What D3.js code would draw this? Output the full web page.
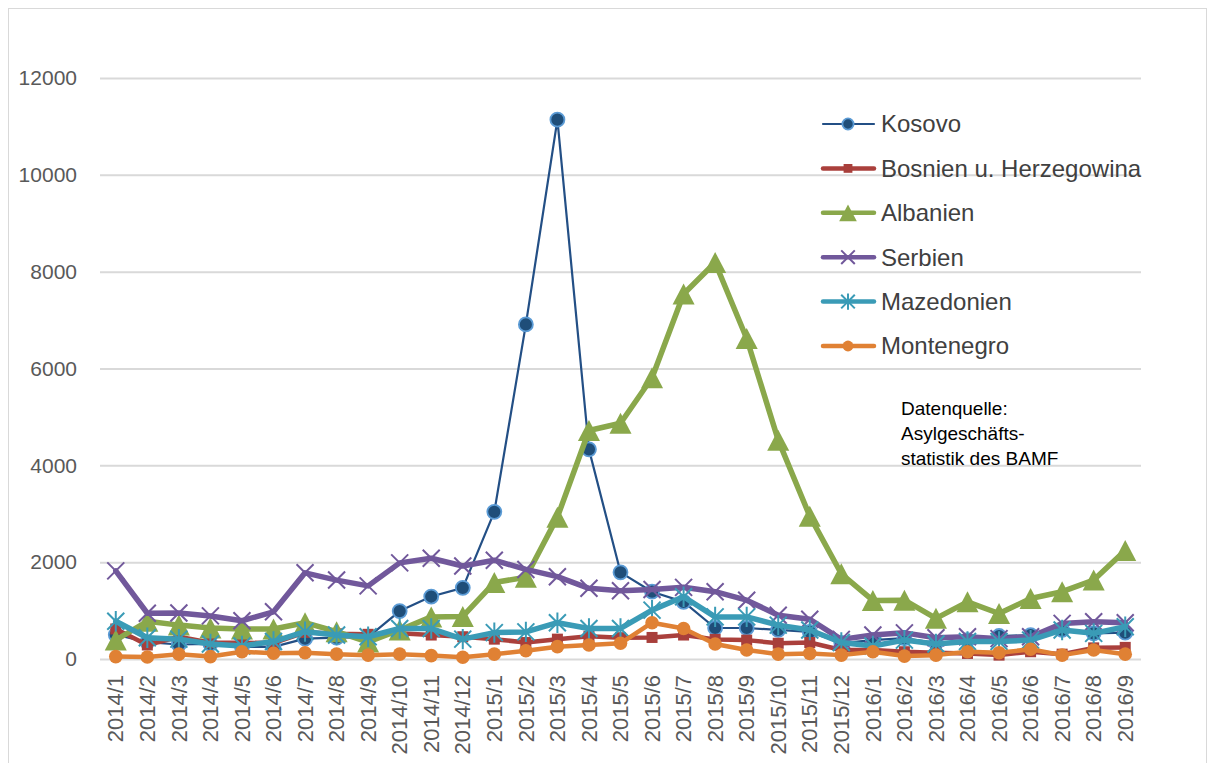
<!DOCTYPE html>
<html>
<head>
<meta charset="utf-8">
<script src="https://cdn.jsdelivr.net/npm/d3@7"></script>
<style>
  body { margin: 0; background: #fff; }
  svg { font-family: "Liberation Sans", Arial, sans-serif; }
</style>
</head>
<body>
<div id="chart"></div>
<script>
const months = [
  '2014/1', '2014/2', '2014/3', '2014/4', '2014/5', '2014/6', '2014/7', '2014/8', '2014/9', '2014/10', '2014/11', '2014/12',
  '2015/1', '2015/2', '2015/3', '2015/4', '2015/5', '2015/6', '2015/7', '2015/8', '2015/9', '2015/10', '2015/11', '2015/12',
  '2016/1', '2016/2', '2016/3', '2016/4', '2016/5', '2016/6', '2016/7', '2016/8', '2016/9'
]

const yTicks = [0, 2000, 4000, 6000, 8000, 10000, 12000]

const kosovo = [500, 350, 300, 310, 250, 250, 420, 440, 450, 990, 1290, 1470, 3040, 6910, 11140, 4330, 1790, 1390, 1180, 640, 640, 600, 560, 330, 390, 430, 330, 390, 475, 495, 600, 530, 545]
const bosnien = [620, 290, 460, 335, 335, 330, 550, 520, 510, 530, 495, 460, 410, 340, 410, 470, 440, 445, 495, 405, 390, 325, 340, 185, 185, 150, 130, 115, 80, 150, 100, 230, 240]
const albanien = [390, 780, 700, 640, 620, 620, 750, 565, 350, 600, 870, 880, 1580, 1690, 2930, 4720, 4870, 5810, 7540, 8190, 6620, 4520, 2950, 1760, 1210, 1215, 840, 1180, 940, 1250, 1390, 1630, 2240]
const serbien = [1820, 945, 950, 890, 790, 975, 1780, 1630, 1510, 1985, 2080, 1920, 2040, 1850, 1700, 1460, 1410, 1435, 1480, 1390, 1215, 905, 820, 405, 495, 540, 440, 460, 420, 460, 735, 770, 750]
const mazedonien = [780, 440, 410, 310, 270, 360, 565, 495, 460, 630, 630, 410, 545, 560, 750, 630, 630, 1010, 1285, 870, 870, 700, 600, 340, 270, 390, 310, 360, 360, 390, 600, 530, 665]
const montenegro = [50, 40, 100, 50, 150, 120, 130, 100, 80, 100, 70, 35, 100, 170, 255, 290, 325, 750, 630, 310, 185, 100, 115, 80, 150, 60, 80, 150, 130, 200, 80, 185, 100]

const noteLines = ['Datenquelle:', 'Asylgeschäfts-', 'statistik des BAMF']

// series order = draw order (later ones on top)
const series = [
  { name: 'Kosovo', values: kosovo, color: '#234f85', width: 2.2, marker: 'circle', fill: '#1f4e79', stroke: '#5b9bd5', r: 7 },
  { name: 'Bosnien u. Herzegowina', values: bosnien, color: '#aa403c', width: 4.5, marker: 'square', fill: '#a83f3b' },
  { name: 'Albanien', values: albanien, color: '#8aa84b', width: 5.5, marker: 'triangle', fill: '#8aa84b' },
  { name: 'Serbien', values: serbien, color: '#71589b', width: 5.5, marker: 'x', fill: '#71589b' },
  { name: 'Mazedonien', values: mazedonien, color: '#3a9bb6', width: 5.5, marker: 'star', fill: '#3a9bb6' },
  { name: 'Montenegro', values: montenegro, color: '#e08134', width: 4.5, marker: 'circle', fill: '#e08134', r: 6.8 }
]

const width = 1214
const height = 763
const plot = { left: 100, right: 1141, top: 78, bottom: 659 }

const svg = d3.select('#chart').append('svg')
  .attr('width', width)
  .attr('height', height)

// outer frame
svg.append('rect')
  .attr('x', 8.5).attr('y', 8.5)
  .attr('width', 1198).attr('height', 800)
  .attr('fill', 'none')
  .attr('stroke', '#d9d9d9')
  .attr('stroke-width', 1)

const x = d3.scaleBand()
  .domain(months)
  .range([plot.left, plot.right])

const cx = m => x(m) + x.bandwidth() / 2

const y = d3.scaleLinear()
  .domain([0, 12000])
  .range([plot.bottom, plot.top])

// y axis + gridlines
const gy = svg.append('g')
  .attr('transform', `translate(${plot.left},0)`)
  .call(d3.axisLeft(y).tickValues(yTicks).tickFormat(d3.format('d'))
    .tickSize(-(plot.right - plot.left)).tickPadding(23))
gy.select('.domain').remove()
gy.selectAll('.tick line').attr('stroke', '#d9d9d9').attr('stroke-width', 2)
gy.selectAll('.tick text')
  .attr('fill', '#595959')
  .style('font-size', '21px')
  .style('font-family', '"Liberation Sans", Arial, sans-serif')

// x axis
const gx = svg.append('g')
  .attr('transform', `translate(0,${plot.bottom})`)
  .call(d3.axisBottom(x).tickSize(0))
gx.select('.domain').remove()
gx.selectAll('.tick text')
  .attr('transform', 'rotate(-90)')
  .attr('x', -16)
  .attr('y', 0)
  .attr('dy', '0.35em')
  .style('text-anchor', 'end')
  .attr('fill', '#595959')
  .style('font-size', '22px')
  .style('font-family', '"Liberation Sans", Arial, sans-serif')

function drawMarker(g, s, size) {
  const k = size / 10
  if (s.marker === 'circle') {
    g.append('circle').attr('r', (s.r || 6.5) * k)
      .attr('fill', s.fill)
      .attr('stroke', s.stroke || s.fill)
      .attr('stroke-width', s.stroke ? 1.8 : 0)
  } else if (s.marker === 'square') {
    g.append('rect').attr('x', -5.5 * k).attr('y', -5.5 * k)
      .attr('width', 11 * k).attr('height', 11 * k)
      .attr('fill', s.fill)
  } else if (s.marker === 'triangle') {
    const h = 10.5 * k
    g.append('path')
      .attr('d', `M0,${-h}L${h * 1.05},${h}L${-h * 1.05},${h}Z`)
      .attr('fill', s.fill)
  } else if (s.marker === 'x') {
    const r = 8.5 * k
    g.append('path')
      .attr('d', `M${-r},${-r}L${r},${r}M${-r},${r}L${r},${-r}`)
      .attr('stroke', s.fill).attr('stroke-width', 2)
  } else if (s.marker === 'star') {
    const r = 8.5 * k
    g.append('path')
      .attr('d', `M${-r},${-r}L${r},${r}M${-r},${r}L${r},${-r}M0,${-r * 1.2}L0,${r * 1.2}`)
      .attr('stroke', s.fill).attr('stroke-width', 2)
  }
}

const line = d3.line()
  .x(d => cx(d.m))
  .y(d => y(d.v))

series.forEach(s => {
  const pts = months.map((m, i) => ({ m: m, v: s.values[i] }))
  const g = svg.append('g')
  g.append('path')
    .datum(pts)
    .attr('d', line)
    .attr('fill', 'none')
    .attr('stroke', s.color)
    .attr('stroke-width', s.width)
    .attr('stroke-linejoin', 'round')
    .attr('stroke-linecap', 'round')
  g.selectAll('g.mk')
    .data(pts)
    .enter()
    .append('g')
    .attr('class', 'mk')
    .attr('transform', d => `translate(${cx(d.m)},${y(d.v)})`)
    .each(function() { drawMarker(d3.select(this), s, 10) })
})

// legend
const legend = svg.append('g')
series.forEach((s, i) => {
  const ly = 124 + i * 44.4
  const item = legend.append('g').attr('transform', `translate(0,${ly})`)
  item.append('line')
    .attr('x1', 823).attr('x2', 874)
    .attr('stroke', s.color)
    .attr('stroke-width', Math.min(s.width, 4.5))
    .attr('stroke-linecap', 'round')
  const mg = item.append('g').attr('transform', 'translate(848,0)')
  drawMarker(mg, s, 8)
  item.append('text')
    .attr('x', 881).attr('y', 0).attr('dy', '0.35em')
    .attr('fill', '#404040')
    .style('font-size', '24px')
    .text(s.name)
})

// note
svg.append('g').selectAll('text')
  .data(noteLines)
  .enter()
  .append('text')
  .attr('x', 901)
  .attr('y', (d, i) => 415 + i * 25)
  .attr('fill', '#000')
  .style('font-size', '19px')
  .text(d => d)
</script>
</body>
</html>
